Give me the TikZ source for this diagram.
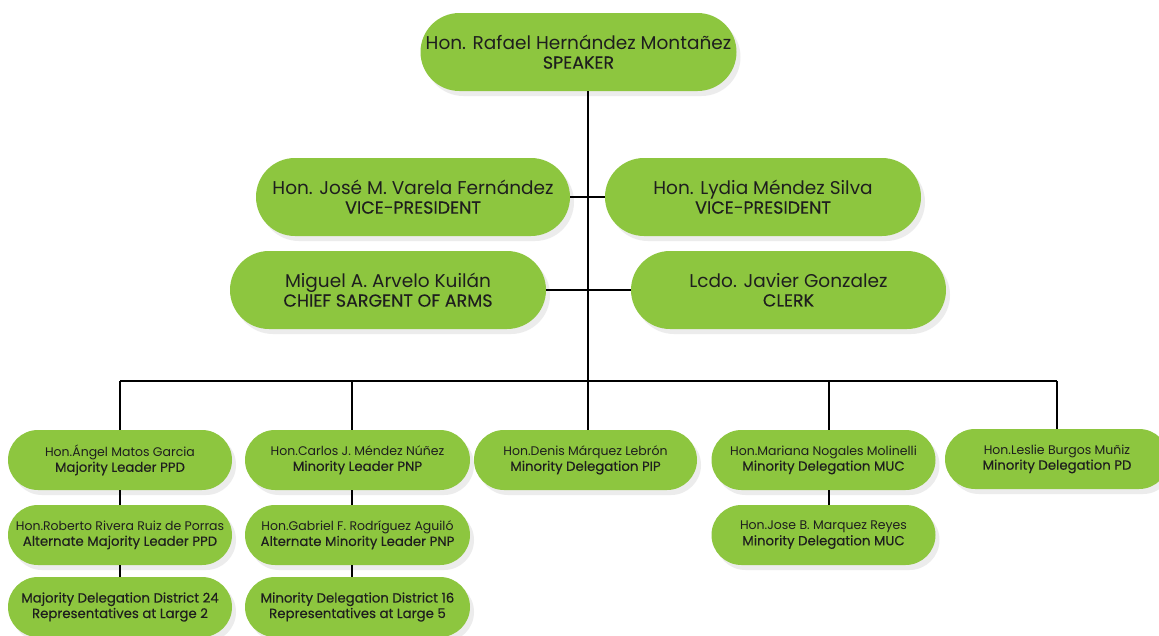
\documentclass[tikz,border=0pt]{standalone}
\usepackage{fontspec}
\setmainfont{Poppins}
\newfontfamily\titlefont{Poppins}[FakeBold=0.2]
\usetikzlibrary{shadows}

\definecolor{leafgreen}{HTML}{8DC63F}
\definecolor{inkgrey}{HTML}{1E1E1E}

\tikzset{
  pill/.style={fill=leafgreen, rounded corners=#1, text=inkgrey, align=center,
    inner sep=0pt, drop shadow={opacity=0.15, shadow xshift=4pt, shadow yshift=-5pt}},
  bigpill/.style={pill=39pt, minimum width=316pt, minimum height=78pt,
    font=\titlefont\fontsize{17.5}{19}\selectfont},
  smallpill/.style={pill=30pt, minimum width=224pt, minimum height=60pt,
    font=\titlefont\fontsize{13.3}{15.5}\selectfont},
  link/.style={line width=1.6pt, black}
}

\newcommand{\bigtext}[2]{\normalfont\fontsize{18.5}{19}\selectfont #1\\#2}
\newcommand{\smalltext}[2]{\normalfont\fontsize{12.5}{15}\selectfont #1\\#2}

\begin{document}
\begin{tikzpicture}[x=1pt, y=-1pt]
  \fill[white] (0,0) rectangle (1159,635);
  \useasboundingbox (0,0) rectangle (1159,635);

  % top of the chart
  \node[bigpill] (spk) at (578.5, 52) {\bigtext{Hon. Rafael Hernández Montañez}{SPEAKER}};
  \node[bigpill, minimum width=314pt] (vpl) at (413, 197) {\bigtext{Hon. José M. Varela Fernández}{VICE-PRESIDENT}};
  \node[bigpill] (vpr) at (763, 197) {\bigtext{Hon. Lydia Méndez Silva}{VICE-PRESIDENT}};
  \node[bigpill] (arms) at (388, 290) {\bigtext{Miguel A. Arvelo Kuilán}{CHIEF SARGENT OF ARMS}};
  \node[bigpill, minimum width=315pt] (clerk) at (788.5, 290) {\bigtext{Lcdo. Javier Gonzalez}{CLERK}};

  % delegations
  \node[smallpill] (ppd) at (120, 460) {\smalltext{Hon.Ángel Matos Garcia}{Majority Leader PPD}};
  \node[smallpill, minimum width=225pt] (pnp) at (357.5, 460) {\smalltext{Hon.Carlos J. Méndez Núñez}{Minority Leader PNP}};
  \node[smallpill, minimum width=223pt] (pip) at (585.5, 460) {\smalltext{Hon.Denis Márquez Lebrón}{Minority Delegation PIP}};
  \node[smallpill] (muc) at (823.5, 460) {\smalltext{Hon.Mariana Nogales Molinelli}{Minority Delegation MUC}};
  \node[smallpill] (pd) at (1057, 459) {\smalltext{Hon.Leslie Burgos Muñiz}{Minority Delegation PD}};

  \node[smallpill] (ppdalt) at (120, 535) {\smalltext{Hon.Roberto Rivera Ruiz de Porras}{Alternate Majority Leader PPD}};
  \node[smallpill, minimum width=225pt] (pnpalt) at (357.5, 535) {\smalltext{Hon.Gabriel F. Rodríguez Aguiló}{Alternate Minority Leader PNP}};
  \node[smallpill] (mucb) at (823.5, 535) {\smalltext{Hon.Jose B. Marquez Reyes}{Minority Delegation MUC}};

  \node[smallpill] (ppdall) at (120, 607) {Majority Delegation District 24\\Representatives at Large 2};
  \node[smallpill, minimum width=225pt] (pnpall) at (357.5, 607) {Minority Delegation District 16\\Representatives at Large 5};

  % connectors
  \coordinate (hub) at (588, 381);
  \coordinate (t1) at (120, 381);
  \coordinate (t2) at (352, 381);
  \coordinate (t4) at (829, 381);
  \coordinate (t5) at (1057, 381);

  \draw[link] (spk.south -| hub) -- (hub);
  \draw[link] (vpl.east) -- (vpr.west);
  \draw[link] (arms.east) -- (clerk.west);
  \draw[link] (t1) -- (t5);

  \draw[link] (t1) -- (t1 |- ppd.north);
  \draw[link] (t2) -- (t2 |- pnp.north);
  \draw[link] (hub) -- (hub |- pip.north);
  \draw[link] (t4) -- (t4 |- muc.north);
  \draw[link] (t5) -- (t5 |- pd.north);

  \draw[link] (ppd.south -| t1) -- (ppdalt.north -| t1);
  \draw[link] (ppdalt.south -| t1) -- (ppdall.north -| t1);
  \draw[link] (pnp.south -| t2) -- (pnpalt.north -| t2);
  \draw[link] (pnpalt.south -| t2) -- (pnpall.north -| t2);
  \draw[link] (muc.south -| t4) -- (mucb.north -| t4);
\end{tikzpicture}
\end{document}
